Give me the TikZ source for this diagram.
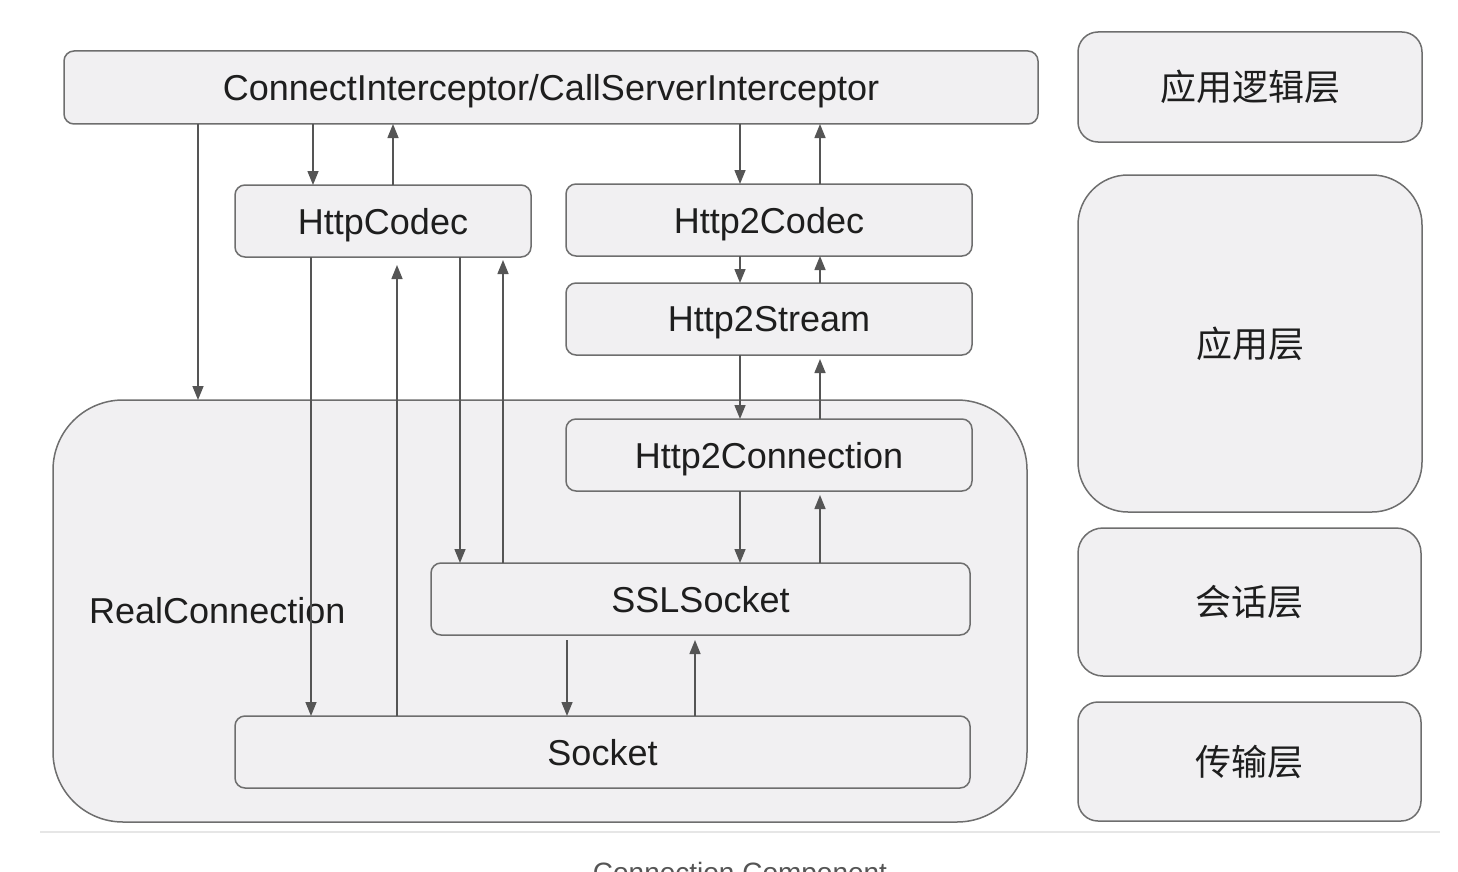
\documentclass[tikz,border=0pt]{standalone}
\usepackage{fontspec}
\setmainfont{Liberation Sans}
\newfontfamily\cjk{Noto Sans CJK SC}
\usetikzlibrary{arrows.meta,calc}
\definecolor{boxfill}{HTML}{F1F0F2}
\definecolor{boxline}{HTML}{6E6E6E}
\definecolor{arrline}{HTML}{555555}
\definecolor{txt}{HTML}{1E1E1E}
\definecolor{sepline}{HTML}{E6E6E6}
\definecolor{captxt}{HTML}{555555}
\begin{document}
\begin{tikzpicture}[x=1pt,y=-1pt,
  box/.style={draw=boxline,fill=boxfill,line width=1.5pt,rounded corners=10pt,
    inner sep=0pt,outer sep=0pt,text=txt,text depth=0pt,font=\fontsize{36}{40}\selectfont},
  layer/.style={box,text depth=,font=\cjk\fontsize{36}{40}\selectfont},
  arr/.style={draw=arrline,line width=1.5pt,-{Triangle[width=11pt,length=14pt]}}]
\useasboundingbox (0,0) rectangle (1458,872);
\fill[white] (0,0) rectangle (1458,872);
% big container
\node[box,rounded corners=70pt,minimum width=974pt,minimum height=422pt] (rc) at (540,611) {};
\node[anchor=west,inner sep=0pt,text depth=0pt,text=txt,font=\fontsize{36}{40}\selectfont] (rclabel) at (89,610) {RealConnection};
% boxes
\node[box,minimum width=974pt,minimum height=73pt] (top) at (551,87.5) {ConnectInterceptor/CallServerInterceptor};
\node[box,minimum width=296pt,minimum height=72pt] (hc) at (383,221) {HttpCodec};
\node[box,minimum width=406pt,minimum height=72pt] (h2c) at (769,220) {Http2Codec};
\node[box,minimum width=406pt,minimum height=72pt] (h2s) at (769,319) {Http2Stream};
\node[box,minimum width=406pt,minimum height=72pt] (h2conn) at (769,455) {Http2Connection};
\node[box,minimum width=539pt,minimum height=72pt] (ssl) at (700.5,599) {SSLSocket};
\node[box,minimum width=735pt,minimum height=72pt] (sock) at (602.5,752) {Socket};
% layers
\node[layer,rounded corners=20pt,minimum width=344pt,minimum height=110pt] (l1) at (1250,87) {应用逻辑层};
\node[layer,rounded corners=50pt,minimum width=344pt,minimum height=337pt] (l2) at (1250,343.5) {应用层};
\node[layer,rounded corners=25pt,minimum width=343pt,minimum height=148pt] (l3) at (1249.5,602) {会话层};
\node[layer,rounded corners=20pt,minimum width=343pt,minimum height=119pt] (l4) at (1249.5,761.5) {传输层};
% column coordinates
\coordinate (xa) at (198,0);
\coordinate (xb) at (313,0);
\coordinate (xc) at (393,0);
\coordinate (xd) at (740,0);
\coordinate (xe) at (820,0);
\coordinate (xf) at (311,0);
\coordinate (xg) at (397,0);
\coordinate (xh) at (460,0);
\coordinate (xi) at (503,0);
\coordinate (xj) at (567,0);
\coordinate (xk) at (695,0);
% arrows
\draw[arr] (top.south -| xa) -- (rc.north -| xa);
\draw[arr] (top.south -| xb) -- (hc.north -| xb);
\draw[arr] (hc.north -| xc) -- (top.south -| xc);
\draw[arr] (top.south -| xd) -- (h2c.north -| xd);
\draw[arr] (h2c.north -| xe) -- (top.south -| xe);
\draw[arr] (h2c.south -| xd) -- (h2s.north -| xd);
\draw[arr] (h2s.north -| xe) -- (h2c.south -| xe);
\draw[arr] (h2s.south -| xd) -- (h2conn.north -| xd);
\draw[arr,shorten >=4pt] (h2conn.north -| xe) -- (h2s.south -| xe);
\draw[arr] (h2conn.south -| xd) -- (ssl.north -| xd);
\draw[arr,shorten >=4pt] (ssl.north -| xe) -- (h2conn.south -| xe);
\draw[arr] (hc.south -| xf) -- (sock.north -| xf);
\draw[arr,shorten >=8pt] (sock.north -| xg) -- (hc.south -| xg);
\draw[arr] (hc.south -| xh) -- (ssl.north -| xh);
\draw[arr,shorten >=3pt] (ssl.north -| xi) -- (hc.south -| xi);
\draw[arr,shorten <=5pt] (ssl.south -| xj) -- (sock.north -| xj);
\draw[arr,shorten >=5pt] (sock.north -| xk) -- (ssl.south -| xk);
% separator and caption
\coordinate (sepl) at (40,832);
\coordinate (sepr) at (1440,832);
\draw[sepline,line width=1.5pt] (sepl) -- (sepr);
\node[anchor=base,text=captxt,font=\fontsize{28}{32}\selectfont] (caption) at (740,882) {Connection Component};
\end{tikzpicture}
\end{document}
